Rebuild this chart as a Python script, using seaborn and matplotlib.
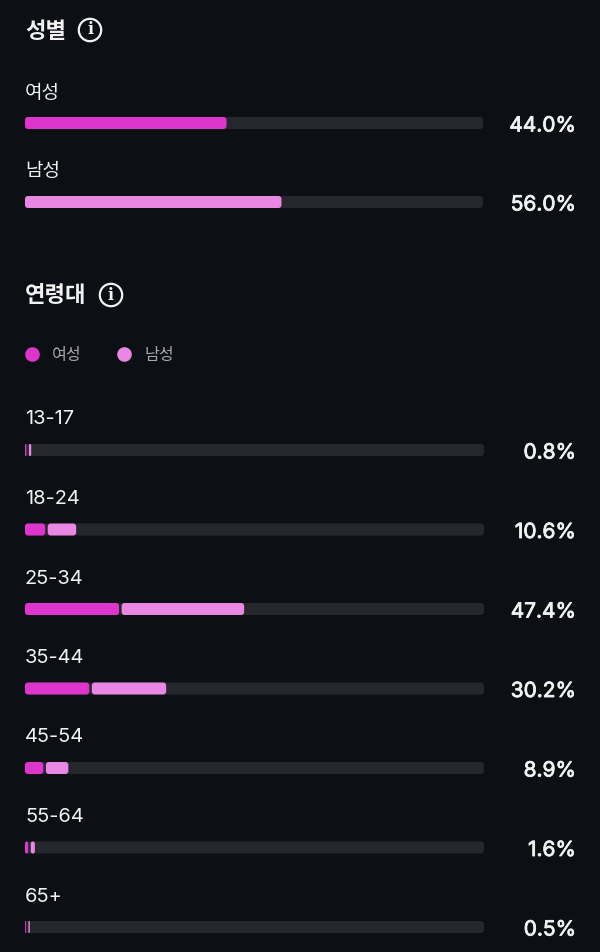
import matplotlib
matplotlib.use('Agg')
import matplotlib.pyplot as plt
import matplotlib.patheffects as pe
from matplotlib.lines import Line2D
from matplotlib.patches import Circle, FancyBboxPatch
import seaborn as sns

gender_labels = ['여성', '남성']
gender_values = [44.0, 56.0]
gender_text = ['44.0%', '56.0%']

age_labels = ['13-17', '18-24', '25-34', '35-44', '45-54', '55-64', '65+']
age_female = [0.3, 4.4, 20.5, 14.0, 4.0, 0.7, 0.2]
age_male = [0.5, 6.2, 26.7, 16.2, 4.9, 0.9, 0.3]
age_text = ['0.8%', '10.6%', '47.4%', '30.2%', '8.9%', '1.6%', '0.5%']
track_full = 100

BG = '#0c0f14'
TRACK = '#25272c'
FEMALE = '#de35cc'
MALE = '#ea86e3'
TEXT = '#f2f2f2'
W, H = 600, 952
GAP = 0.55  # gap between the two segments, in percent
FONTS = ['Inter', 'Noto Sans CJK KR', 'DejaVu Sans']
KR = ['Noto Sans CJK KR', 'DejaVu Sans']

sns.set_theme(style='dark')
plt.rcParams['font.family'] = FONTS
fig = plt.figure(figsize=(W / 100, H / 100), dpi=100, facecolor=BG)


def px_axes(left, top, right, bottom):
    ax = fig.add_axes([left / W, 1 - bottom / H, (right - left) / W, (bottom - top) / H])
    ax.set_facecolor('none')
    return ax


def rounded(ax, px_x, px_y, radius=3):
    # swap seaborn's square bars for rounded ones of the same size
    for patch in list(ax.patches):
        x, y, w, h = patch.get_x(), patch.get_y(), patch.get_width(), patch.get_height()
        r = min(radius / px_x, w / 2)
        box = FancyBboxPatch((x, y), w, h, boxstyle=f'round,pad=0,rounding_size={r}',
                             mutation_aspect=px_x / px_y, fc=patch.get_facecolor(),
                             ec='none', zorder=patch.get_zorder())
        patch.remove()
        ax.add_patch(box)


def finish(ax, labels, texts, n_below, right_px, label_off, fs):
    ax.set_xlim(0, 100)
    ax.set_ylim(n_below, -0.5)
    ax.axis('off')
    for i, lab in enumerate(labels):
        ax.annotate(lab, (0, i), xytext=(0, label_off * 0.72), textcoords='offset points',
                    color=TEXT, fontsize=fs, va='center', ha='left', family=FONTS)
        val = ax.annotate(texts[i], (100, i), xytext=(right_px * 0.72, -1.8), textcoords='offset points',
                          color=TEXT, fontsize=15, va='center', ha='right', family=FONTS)
        val.set_path_effects([pe.withStroke(linewidth=0.6, foreground=TEXT)])


# gender block
ax1 = px_axes(25, 83.5, 483, 242)
step = 79.0
sns.barplot(x=[track_full] * 2, y=gender_labels, orient='h', width=12 / step, color=TRACK, saturation=1, ax=ax1)
sns.barplot(x=gender_values, y=gender_labels, orient='h', width=12 / step, palette=[FEMALE, MALE],
            hue=gender_labels, legend=False, saturation=1, ax=ax1)
finish(ax1, gender_labels, gender_text, (242 - 123) / step, 93, 30.5, 13.7)
rounded(ax1, 4.58, step)

# age block
ax2 = px_axes(25, 410.25, 484, 952)
step = 79.5
sns.barplot(x=[track_full] * 7, y=age_labels, orient='h', width=12 / step, color=TRACK, saturation=1, ax=ax2)
sns.barplot(x=age_female, y=age_labels, orient='h', width=12 / step, color=FEMALE, saturation=1, ax=ax2)
sns.barplot(x=age_male, y=age_labels, orient='h', width=12 / step, color=MALE, saturation=1, ax=ax2)
for patch, f in zip(ax2.containers[-1], age_female):
    patch.set_x(f + GAP)
finish(ax2, age_labels, age_text, (952 - 450) / step, 92, 30.5, 14.4)
rounded(ax2, 4.59, step)

leg = fig.legend(handles=[Line2D([], [], ls='', marker='o', ms=9.5, color=FEMALE, label='여성'),
                          Line2D([], [], ls='', marker='o', ms=9.5, color=MALE, label='남성')],
                 ncol=2, frameon=False, loc='center left', bbox_to_anchor=(15.5 / W, 1 - 355.5 / H),
                 handletextpad=0.25, columnspacing=1.65, borderpad=0, borderaxespad=0,
                 labelcolor='#a6a7aa', prop={'family': KR, 'size': 11.6})

# titles and info icons, drawn in pixel space
top = px_axes(0, 0, W, H)
top.set_xlim(0, W)
top.set_ylim(H, 0)
top.axis('off')
for title, tx, ty, cx in [('성별', 25, 31, 90), ('연령대', 25, 296, 111)]:
    top.text(tx, ty, title, color=TEXT, fontsize=16, fontweight='bold', va='center', ha='left', family=KR)
    top.add_patch(Circle((cx, ty - 1), 11.2, fc='none', ec=TEXT, lw=1.6))
    top.text(cx, ty - 1, 'i', color=TEXT, fontsize=11.5, fontweight='bold', va='center', ha='center', family='DejaVu Serif')

fig.savefig('out.png', dpi=100, facecolor=BG)
